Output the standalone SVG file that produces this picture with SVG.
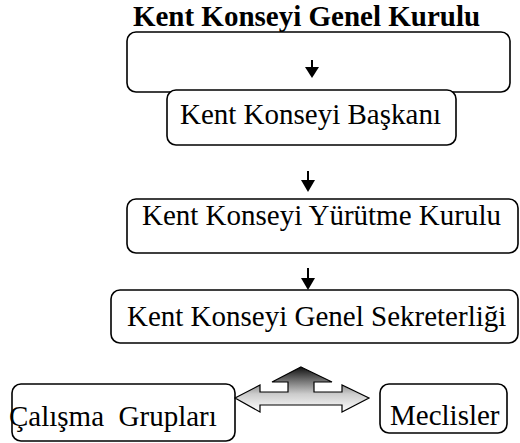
<svg xmlns="http://www.w3.org/2000/svg" width="520" height="443" viewBox="0 0 520 443">
  <style>
    .box { fill: #ffffff; stroke: #000000; stroke-width: 1.6; }
    .lbl { font-family: "Liberation Serif", "Times New Roman", serif; font-size: 29px; fill: #000000; }
    .title { font-family: "Liberation Serif", "Times New Roman", serif; font-size: 29px; font-weight: bold; fill: #000000; }
    .stem { stroke: #000000; stroke-width: 2; fill: none; }
    .head { fill: #000000; stroke: none; }
    .block { stroke: #000000; stroke-width: 1.2; stroke-linejoin: miter; }
  </style>
  <defs>
    <linearGradient id="grad" gradientUnits="userSpaceOnUse" x1="0" y1="367" x2="0" y2="412">
      <stop offset="0" stop-color="#111111"/>
      <stop offset="0.33" stop-color="#7a7a7a"/>
      <stop offset="0.6" stop-color="#cccccc"/>
      <stop offset="1" stop-color="#ffffff"/>
    </linearGradient>
  </defs>
  <rect width="520" height="443" fill="#ffffff"/>

  <g id="genel-kurulu">
    <text class="title" x="306.5" y="26" text-anchor="middle">Kent Konseyi Genel Kurulu</text>
    <rect class="box" x="127" y="32" width="383" height="60" rx="9" ry="9"/>
  </g>

  <g id="baskan">
    <rect class="box" x="167" y="90" width="289" height="55" rx="9" ry="9"/>
    <text class="lbl" x="180" y="124">Kent Konseyi Başkanı</text>
  </g>

  <g id="yurutme-kurulu">
    <rect class="box" x="127" y="199" width="391" height="54" rx="9" ry="9"/>
    <text class="lbl" x="142" y="225">Kent Konseyi Yürütme Kurulu</text>
  </g>

  <g id="genel-sekreterlik">
    <rect class="box" x="111" y="290" width="407" height="53" rx="9" ry="9"/>
    <text class="lbl" x="127" y="326">Kent Konseyi Genel Sekreterliği</text>
  </g>

  <g id="calisma-gruplari">
    <rect class="box" x="12" y="384" width="223" height="57" rx="9" ry="9"/>
    <text class="lbl" x="9" y="426" xml:space="preserve">Çalışma  Grupları</text>
  </g>

  <g id="meclisler">
    <rect class="box" x="380" y="384" width="127" height="49" rx="9" ry="9"/>
    <text class="lbl" x="390" y="425">Meclisler</text>
  </g>

  <g id="connectors">
    <line class="stem" x1="312" y1="60" x2="312" y2="68"/>
    <polygon class="head" points="305,67 319,67 312,78"/>
    <line class="stem" x1="308" y1="171" x2="308" y2="181"/>
    <polygon class="head" points="301,180 315,180 308,192"/>
    <line class="stem" x1="308" y1="268" x2="308" y2="279"/>
    <polygon class="head" points="301,278 315,278 308,290"/>
    <polygon class="block" fill="url(#grad)" points="301,367 332,382 314,382 314,392 342,392 342,385 369,398 342,412 342,405 260,405 260,412 235,398 260,385 260,392 288,392 288,382 272,382"/>
  </g>
</svg>
